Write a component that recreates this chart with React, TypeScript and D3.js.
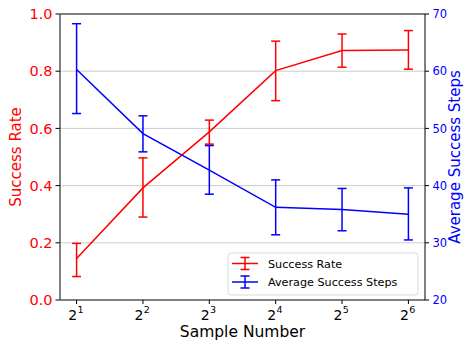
import React from "react";
import * as d3 from "d3";

const exponents = [1, 2, 3, 4, 5, 6];
const successRate = [0.145, 0.392, 0.588, 0.802, 0.872, 0.874];
const successLow = [0.082, 0.29, 0.545, 0.697, 0.814, 0.807];
const successHigh = [0.198, 0.497, 0.629, 0.905, 0.93, 0.942];
const avgSteps = [60.3, 49.1, 42.7, 36.2, 35.8, 35.0];
const stepsLow = [52.6, 45.9, 38.5, 31.4, 32.1, 30.5];
const stepsHigh = [68.3, 52.2, 47.0, 41.0, 39.5, 39.6];
const leftTicks = [0, 0.2, 0.4, 0.6, 0.8, 1.0];
const rightTicks = [20, 30, 40, 50, 60, 70];

const W = 464, H = 343;
const L = 60, R = 425, T = 14, B = 300;
const RED = "#ff0000", BLUE = "#0000ff";
const FONT = "DejaVu Sans, sans-serif";

export default function App() {
  const x = d3.scaleLinear().domain([1 - 0.25, 6 + 0.25]).range([L, R]);
  const yL = d3.scaleLinear().domain([0, 1]).range([B, T]);
  const yR = d3.scaleLinear().domain([20, 70]).range([B, T]);
  const lineL = d3.line<number>().x((_, i) => x(exponents[i])).y((d) => yL(d));
  const lineR = d3.line<number>().x((_, i) => x(exponents[i])).y((d) => yR(d));
  const cap = 4.5;

  const errBars = (lo: number[], hi: number[], y: any, color: string) =>
    exponents.map((e, i) => (
      <g key={i} stroke={color} strokeWidth={1.5}>
        <line x1={x(e)} x2={x(e)} y1={y(lo[i])} y2={y(hi[i])} />
        <line x1={x(e) - cap} x2={x(e) + cap} y1={y(lo[i])} y2={y(lo[i])} />
        <line x1={x(e) - cap} x2={x(e) + cap} y1={y(hi[i])} y2={y(hi[i])} />
      </g>
    ));

  const legendHandle = (cx: number, cy: number, color: string) => (
    <g stroke={color} strokeWidth={1.5}>
      <line x1={cx - 13} x2={cx + 13} y1={cy} y2={cy} />
      <line x1={cx} x2={cx} y1={cy - 6} y2={cy + 6} />
      <line x1={cx - cap} x2={cx + cap} y1={cy - 6} y2={cy - 6} />
      <line x1={cx - cap} x2={cx + cap} y1={cy + 6} y2={cy + 6} />
    </g>
  );

  return (
    <svg width={W} height={H} style={{ position: "absolute", left: 0, top: 0, background: "#fff" }} fontFamily={FONT}>
      {rightTicks.slice(1, -1).map((t) => (
        <line key={t} x1={L} x2={R} y1={yR(t)} y2={yR(t)} stroke="#cccccc" strokeWidth={1} />
      ))}
      <path d={lineL(successRate) || ""} fill="none" stroke={RED} strokeWidth={1.5} />
      {errBars(successLow, successHigh, yL, RED)}
      <path d={lineR(avgSteps) || ""} fill="none" stroke={BLUE} strokeWidth={1.5} />
      {errBars(stepsLow, stepsHigh, yR, BLUE)}
      <line x1={L} x2={R} y1={T} y2={T} stroke="#000" strokeWidth={1} />
      <line x1={L} x2={R} y1={B} y2={B} stroke="#000" strokeWidth={1} />
      <line x1={R} x2={R} y1={T} y2={B} stroke="#000" strokeWidth={1} />
      <line x1={L} x2={L} y1={T} y2={B} stroke="#808080" strokeWidth={2} />
      {leftTicks.map((t) => (
        <g key={t}>
          <line x1={L - 4.5} x2={L} y1={yL(t)} y2={yL(t)} stroke="#000" />
          <text x={L - 7.5} y={yL(t)} dy="0.36em" textAnchor="end" fontSize={14.5} fill={RED}>
            {t.toFixed(1)}
          </text>
        </g>
      ))}
      {rightTicks.map((t) => (
        <g key={t}>
          <line x1={R} x2={R + 4} y1={yR(t)} y2={yR(t)} stroke="#000" />
          <text x={R + 7.5} y={yR(t)} dy="0.36em" textAnchor="start" fontSize={11.5} fill={BLUE}>
            {t}
          </text>
        </g>
      ))}
      {exponents.map((e) => (
        <g key={e}>
          <line x1={x(e)} x2={x(e)} y1={B} y2={B + 4} stroke="#000" />
          <text x={x(e) - 4} y={320} textAnchor="middle" fontSize={14} fill="#000">
            2
          </text>
          <text x={x(e) + 0.8} y={312.5} textAnchor="start" fontSize={9.5} fill="#000">
            {e}
          </text>
        </g>
      ))}
      <text x={(L + R) / 2} y={337} textAnchor="middle" fontSize={15.5} fill="#000">
        Sample Number
      </text>
      <text transform={`translate(20.5,${(T + B) / 2}) rotate(-90)`} textAnchor="middle" fontSize={15} fill={RED}>
        Success Rate
      </text>
      <text transform={`translate(460,${(T + B) / 2}) rotate(-90)`} textAnchor="middle" fontSize={15} fill={BLUE}>
        Average Success Steps
      </text>
      <rect x={228} y={253} width={190} height={42} rx={3} fill="#fff" fillOpacity={0.85} stroke="#d9d9d9" />
      {legendHandle(245, 263.5, RED)}
      <text x={268} y={263.5} dy="0.36em" fontSize={11.2} fill="#000">Success Rate</text>
      {legendHandle(245, 282, BLUE)}
      <text x={268} y={282} dy="0.36em" fontSize={11.2} fill="#000">Average Success Steps</text>
    </svg>
  );
}
